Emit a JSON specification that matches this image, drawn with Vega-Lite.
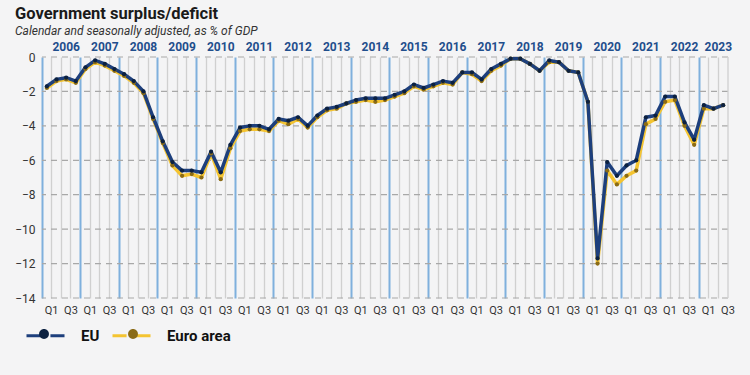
{
  "$schema": "https://vega.github.io/schema/vega-lite/v6.json",
  "width": 686,
  "height": 241,
  "autosize": "none",
  "padding": {"left": 42, "top": 57, "right": 22, "bottom": 77},
  "background": "#f4f4f5",
  "config": {
    "view": {"stroke": null},
    "font": "Roboto"
  },
  "title": {
    "text": "Government surplus/deficit",
    "subtitle": "Calendar and seasonally adjusted, as % of GDP",
    "anchor": "start",
    "frame": "group",
    "dx": -27,
    "offset": 3,
    "fontSize": 16.5,
    "fontWeight": "bold",
    "color": "#1a1a1a",
    "subtitleFontSize": 12,
    "subtitleFontStyle": "italic",
    "subtitleColor": "#333333",
    "subtitlePadding": 4
  },
  "datasets": {
    "ticks": [
      {"g": 0}, {"g": -2}, {"g": -4}, {"g": -6}, {"g": -8}, {"g": -10}, {"g": -12}, {"g": -14}
    ],
    "deficit": [
      {"q": "2006Q1", "EU": -1.7, "Euro area": -1.8},
      {"q": "2006Q2", "EU": -1.3, "Euro area": -1.4},
      {"q": "2006Q3", "EU": -1.2, "Euro area": -1.3},
      {"q": "2006Q4", "EU": -1.4, "Euro area": -1.5},
      {"q": "2007Q1", "EU": -0.6, "Euro area": -0.7},
      {"q": "2007Q2", "EU": -0.2, "Euro area": -0.3},
      {"q": "2007Q3", "EU": -0.4, "Euro area": -0.5},
      {"q": "2007Q4", "EU": -0.7, "Euro area": -0.8},
      {"q": "2008Q1", "EU": -1.0, "Euro area": -1.1},
      {"q": "2008Q2", "EU": -1.4, "Euro area": -1.5},
      {"q": "2008Q3", "EU": -2.0, "Euro area": -2.1},
      {"q": "2008Q4", "EU": -3.5, "Euro area": -3.6},
      {"q": "2009Q1", "EU": -4.9, "Euro area": -5.0},
      {"q": "2009Q2", "EU": -6.1, "Euro area": -6.3},
      {"q": "2009Q3", "EU": -6.6, "Euro area": -6.9},
      {"q": "2009Q4", "EU": -6.6, "Euro area": -6.8},
      {"q": "2010Q1", "EU": -6.7, "Euro area": -7.0},
      {"q": "2010Q2", "EU": -5.5, "Euro area": -5.6},
      {"q": "2010Q3", "EU": -6.7, "Euro area": -7.1},
      {"q": "2010Q4", "EU": -5.1, "Euro area": -5.3},
      {"q": "2011Q1", "EU": -4.1, "Euro area": -4.3},
      {"q": "2011Q2", "EU": -4.0, "Euro area": -4.2},
      {"q": "2011Q3", "EU": -4.0, "Euro area": -4.2},
      {"q": "2011Q4", "EU": -4.2, "Euro area": -4.3},
      {"q": "2012Q1", "EU": -3.6, "Euro area": -3.7},
      {"q": "2012Q2", "EU": -3.7, "Euro area": -3.9},
      {"q": "2012Q3", "EU": -3.5, "Euro area": -3.6},
      {"q": "2012Q4", "EU": -4.0, "Euro area": -4.1},
      {"q": "2013Q1", "EU": -3.4, "Euro area": -3.5},
      {"q": "2013Q2", "EU": -3.0, "Euro area": -3.1},
      {"q": "2013Q3", "EU": -2.9, "Euro area": -3.0},
      {"q": "2013Q4", "EU": -2.7, "Euro area": -2.7},
      {"q": "2014Q1", "EU": -2.5, "Euro area": -2.6},
      {"q": "2014Q2", "EU": -2.4, "Euro area": -2.5},
      {"q": "2014Q3", "EU": -2.4, "Euro area": -2.6},
      {"q": "2014Q4", "EU": -2.4, "Euro area": -2.5},
      {"q": "2015Q1", "EU": -2.2, "Euro area": -2.3},
      {"q": "2015Q2", "EU": -2.0, "Euro area": -2.1},
      {"q": "2015Q3", "EU": -1.6, "Euro area": -1.7},
      {"q": "2015Q4", "EU": -1.8, "Euro area": -1.9},
      {"q": "2016Q1", "EU": -1.6, "Euro area": -1.7},
      {"q": "2016Q2", "EU": -1.4, "Euro area": -1.5},
      {"q": "2016Q3", "EU": -1.5, "Euro area": -1.6},
      {"q": "2016Q4", "EU": -0.9, "Euro area": -0.9},
      {"q": "2017Q1", "EU": -0.9, "Euro area": -1.0},
      {"q": "2017Q2", "EU": -1.3, "Euro area": -1.4},
      {"q": "2017Q3", "EU": -0.7, "Euro area": -0.8},
      {"q": "2017Q4", "EU": -0.4, "Euro area": -0.5},
      {"q": "2018Q1", "EU": -0.1, "Euro area": -0.1},
      {"q": "2018Q2", "EU": -0.1, "Euro area": -0.1},
      {"q": "2018Q3", "EU": -0.4, "Euro area": -0.4},
      {"q": "2018Q4", "EU": -0.8, "Euro area": -0.8},
      {"q": "2019Q1", "EU": -0.2, "Euro area": -0.3},
      {"q": "2019Q2", "EU": -0.3, "Euro area": -0.3},
      {"q": "2019Q3", "EU": -0.8, "Euro area": -0.8},
      {"q": "2019Q4", "EU": -0.9, "Euro area": -0.9},
      {"q": "2020Q1", "EU": -2.6, "Euro area": -2.6},
      {"q": "2020Q2", "EU": -11.7, "Euro area": -12.0},
      {"q": "2020Q3", "EU": -6.1, "Euro area": -6.6},
      {"q": "2020Q4", "EU": -6.9, "Euro area": -7.4},
      {"q": "2021Q1", "EU": -6.3, "Euro area": -6.9},
      {"q": "2021Q2", "EU": -6.0, "Euro area": -6.6},
      {"q": "2021Q3", "EU": -3.5, "Euro area": -3.9},
      {"q": "2021Q4", "EU": -3.4, "Euro area": -3.6},
      {"q": "2022Q1", "EU": -2.3, "Euro area": -2.6},
      {"q": "2022Q2", "EU": -2.3, "Euro area": -2.5},
      {"q": "2022Q3", "EU": -3.8, "Euro area": -4.0},
      {"q": "2022Q4", "EU": -4.8, "Euro area": -5.1},
      {"q": "2023Q1", "EU": -2.8, "Euro area": -3.0},
      {"q": "2023Q2", "EU": -3.0, "Euro area": -3.0},
      {"q": "2023Q3", "EU": -2.8, "Euro area": -2.8}
    ]
  },
  "layer": [
    {
      "data": {"name": "ticks"},
      "mark": {"type": "rule", "color": "#a8a8a8", "strokeWidth": 1.2, "strokeDash": [6, 5]},
      "encoding": {
        "y": {
          "field": "g", "type": "quantitative",
          "scale": {"domain": [-14, 0], "nice": false, "zero": false},
          "axis": {
            "orient": "left", "title": null, "values": [0, -2, -4, -6, -8, -10, -12, -14],
            "domain": false, "ticks": false, "grid": false,
            "labelFontSize": 12, "labelColor": "#333333", "labelPadding": 7,
            "labelOverlap": false, "labelBound": false, "labelFlush": false
          }
        }
      }
    },
    {
      "data": {"name": "deficit"},
      "transform": [{"fold": ["Euro area", "EU"], "as": ["series", "value"]}],
      "mark": {"type": "line", "strokeWidth": 3.5, "strokeJoin": "round"},
      "encoding": {
        "x": {
          "field": "q", "type": "ordinal", "bandPosition": 0.5,
          "scale": {"type": "band", "paddingInner": 0, "paddingOuter": 0},
          "axis": {
            "orient": "bottom", "title": null, "bandPosition": 0,
            "domain": false, "ticks": false, "grid": true,
            "gridColor": {"condition": {"test": "slice(datum.value,4)=='Q1'", "value": "#7fb0dd"}, "value": "#d0d0d0"},
            "gridWidth": {"condition": {"test": "slice(datum.value,4)=='Q1'", "value": 2}, "value": 1.3},
            "labelExpr": "slice(datum.value,4)=='Q1' || slice(datum.value,4)=='Q3' ? slice(datum.value,4) : ''",
            "labelAngle": 0, "labelOffset": 4.8, "labelPadding": 6,
            "labelFontSize": 11, "labelColor": "#333333", "labelOverlap": false
          }
        },
        "y": {
          "field": "value", "type": "quantitative",
          "axis": {
            "orient": "left", "title": null, "values": [0, -2, -4, -6, -8, -10, -12, -14],
            "domain": false, "ticks": false, "grid": false,
            "labelFontSize": 12, "labelColor": "#333333", "labelPadding": 7,
            "labelOverlap": false, "labelBound": false, "labelFlush": false
          }
        },
        "stroke": {
          "field": "series", "type": "nominal",
          "scale": {"domain": ["EU", "Euro area"], "range": ["#1d3f7c", "#f4c431"]},
          "legend": {
            "orient": "none", "legendX": -17, "legendY": 258, "direction": "horizontal",
            "title": null,
            "symbolType": "M-1,0L-0.26,0M0.26,0L1,0",
            "symbolSize": 1444, "symbolStrokeWidth": 3,
            "labelFontSize": 15, "labelFontWeight": "bold", "labelColor": "#111111",
            "labelOffset": 15, "columnPadding": 6
          }
        }
      }
    },
    {
      "data": {"name": "deficit"},
      "transform": [{"fold": ["Euro area", "EU"], "as": ["series", "value"]}],
      "mark": {"type": "point", "filled": true, "size": 18, "opacity": 1},
      "encoding": {
        "x": {
          "field": "q", "type": "ordinal", "bandPosition": 0.5,
          "axis": {"orient": "bottom", "title": null, "labels": false, "grid": false, "ticks": false, "domain": false}
        },
        "y": {
          "field": "value", "type": "quantitative",
          "axis": {
            "orient": "left", "title": null, "values": [0, -2, -4, -6, -8, -10, -12, -14],
            "domain": false, "ticks": false, "grid": false,
            "labelFontSize": 12, "labelColor": "#333333", "labelPadding": 7,
            "labelOverlap": false, "labelBound": false, "labelFlush": false
          }
        },
        "fill": {
          "field": "series", "type": "nominal",
          "scale": {"domain": ["Euro area", "EU"], "range": ["#8a6b16", "#0c2140"]},
          "legend": {
            "orient": "none", "legendX": -17, "legendY": 258, "direction": "horizontal",
            "title": null, "values": ["EU", "Euro area"],
            "symbolType": "M-0.26,0A0.26,0.26,0,1,1,0.26,0A0.26,0.26,0,1,1,-0.26,0Z",
            "symbolSize": 1444, "symbolStrokeWidth": 0,
            "labelExpr": "''", "labelFontSize": 15,
            "labelOffset": 15, "columnPadding": 36
          }
        }
      }
    },
    {
      "data": {"name": "deficit"},
      "transform": [{"filter": "datum.q == '2023Q3'"}],
      "mark": {"type": "rule", "color": "#d0d0d0", "strokeWidth": 1.3},
      "encoding": {
        "x": {
          "field": "q", "type": "ordinal", "bandPosition": 1,
          "axis": {
            "orient": "top", "title": null, "bandPosition": 0,
            "domain": false, "ticks": false, "grid": false,
            "values": ["2006Q3","2007Q3","2008Q3","2009Q3","2010Q3","2011Q3","2012Q3","2013Q3","2014Q3","2015Q3","2016Q3","2017Q3","2018Q3","2019Q3","2020Q3","2021Q3","2022Q3","2023Q3"],
            "labelExpr": "slice(datum.value,0,4)",
            "labelAngle": 0, "labelPadding": 4,
            "labelOffset": {"condition": {"test": "datum.value=='2023Q3'", "value": -4.8}, "value": 0},
            "labelFontSize": 12, "labelFontWeight": "bold", "labelColor": "#1f4e8c", "labelOverlap": false
          }
        }
      }
    }
  ]
}
